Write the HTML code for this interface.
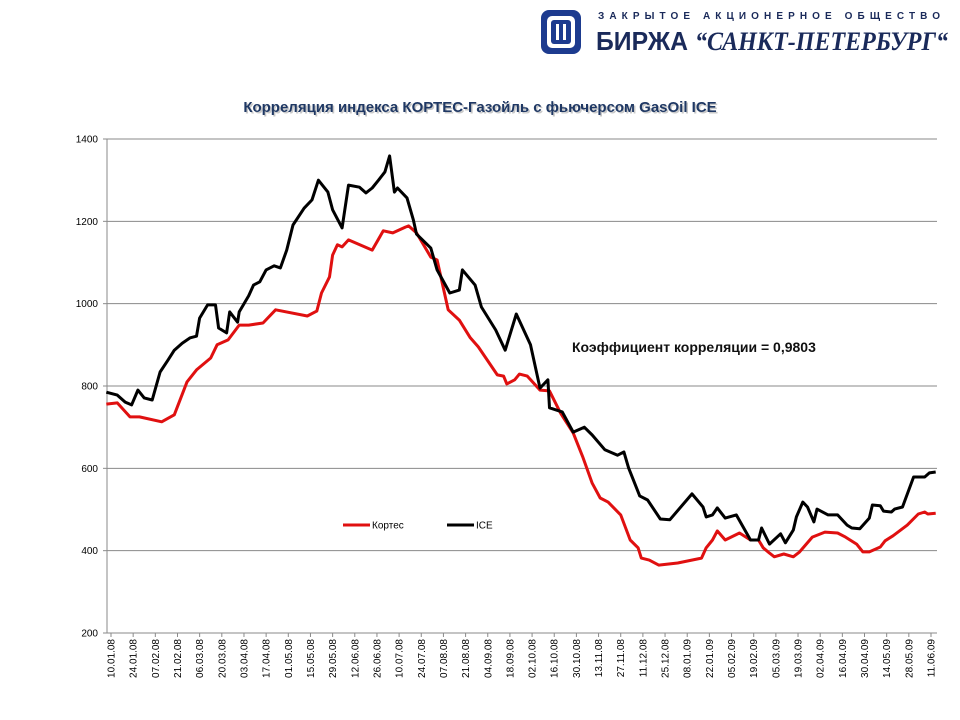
<!DOCTYPE html>
<html><head><meta charset="utf-8"><style>
body{margin:0;background:#fff;font-family:"Liberation Sans",sans-serif}
#wrap{position:relative;width:960px;height:720px;overflow:hidden}
</style></head><body>
<div id="wrap">
<svg id="logo" width="960" height="80" style="position:absolute;left:0;top:0">
<g>
<rect x="541" y="10" width="40" height="44" rx="8" fill="#1d3b8f"/>
<rect x="547" y="16" width="28" height="32" rx="5" fill="#fff"/>
<rect x="551" y="20" width="20" height="24" rx="3" fill="#1d3b8f"/>
<rect x="556" y="24" width="10" height="16" fill="#fff"/>
<rect x="559" y="24" width="4" height="16" fill="#1d3b8f"/>
</g>
<text x="598" y="19" font-size="10" font-weight="bold" fill="#1a2a5a" textLength="342" lengthAdjust="spacing" font-family="Liberation Sans, sans-serif">ЗАКРЫТОЕ АКЦИОНЕРНОЕ ОБЩЕСТВО</text>
<text x="596" y="50" font-size="26" font-weight="bold" fill="#1a2a5a" textLength="92" lengthAdjust="spacingAndGlyphs" font-family="Liberation Sans, sans-serif">БИРЖА</text>
<text x="695" y="50" font-size="26" font-weight="bold" font-style="italic" fill="#1a2a5a" textLength="253" lengthAdjust="spacingAndGlyphs" font-family="Liberation Serif, serif">“САНКТ-ПЕТЕРБУРГ“</text>
</svg>
<svg id="chart" width="960" height="720" style="position:absolute;left:0;top:0"></svg>
</div>
<script>
const yTicks=[200,400,600,800,1000,1200,1400];
const xTickLabels=["10.01.08","24.01.08","07.02.08","21.02.08","06.03.08","20.03.08","03.04.08","17.04.08","01.05.08","15.05.08","29.05.08","12.06.08","26.06.08","10.07.08","24.07.08","07.08.08","21.08.08","04.09.08","18.09.08","02.10.08","16.10.08","30.10.08","13.11.08","27.11.08","11.12.08","25.12.08","08.01.09","22.01.09","05.02.09","19.02.09","05.03.09","19.03.09","02.04.09","16.04.09","30.04.09","14.05.09","28.05.09","11.06.09"];
const iceDays=[-3,4,9,13,17,21,26,31,36,40,45,50,54,56,61,66,68,73,75,80,81,87,90,94,98,103,107,111,115,122,127,131,137,140,146,150,157,161,165,169,173,176,179,181,187,191,193,202,206,214,220,222,230,234,243,249,256,265,271,276,277,285,292,299,304,312,320,324,327,334,339,347,353,367,374,376,380,383,388,395,404,409,411,416,423,426,431,433,437,440,444,446,453,459,465,468,473,479,481,486,488,493,495,500,507,510,514,517,521];
const iceValues=[785,778,761,754,790,771,766,834,863,887,904,917,921,965,997,997,941,929,980,955,980,1019,1045,1053,1082,1092,1087,1130,1191,1232,1252,1300,1271,1228,1184,1288,1283,1269,1281,1300,1320,1359,1271,1281,1257,1203,1169,1135,1082,1026,1033,1082,1045,992,936,887,975,900,795,815,747,737,688,700,681,645,632,640,601,533,523,477,475,538,506,482,487,504,479,487,426,426,455,416,441,419,450,482,518,506,470,501,487,487,462,455,453,479,511,509,496,494,501,506,579,579,579,589,591];
const kortesDays=[-3,4,12,18,32,40,48,54,63,67,74,81,87,96,104,124,130,133,138,140,143,146,150,159,165,172,178,186,188,193,202,206,213,220,227,232,244,248,250,255,258,263,271,277,284,292,298,304,309,314,322,328,333,335,340,346,358,373,376,380,383,388,397,404,409,412,416,419,425,431,435,443,451,459,464,471,475,479,486,489,494,503,510,514,516,521];
const kortesValues=[756,759,725,725,713,730,810,839,868,900,912,948,948,953,985,970,982,1026,1065,1118,1143,1138,1155,1140,1130,1177,1172,1186,1189,1172,1113,1106,985,960,917,895,827,824,805,815,829,824,790,788,734,686,628,564,528,518,487,426,407,382,377,365,370,382,407,426,448,426,443,426,426,407,394,385,392,385,397,433,445,443,433,416,397,397,409,424,436,462,489,494,489,491];
const NS="http://www.w3.org/2000/svg";
const svg=document.getElementById('chart');
const L=107,R=937,T=139,B=633;
const yScale=v=>B-(v-200)/1200*(B-T);
const xScale=d=>111+d*820/518;
function mk(tag,attrs,parent){const e=document.createElementNS(NS,tag);for(const k in attrs)e.setAttribute(k,attrs[k]);(parent||svg).appendChild(e);return e;}
let t=mk('text',{x:480,y:112,'text-anchor':'middle','font-size':15,'font-weight':'bold',fill:'#c8c8c8'});t.textContent="Корреляция индекса КОРТЕС-Газойль с фьючерсом GasOil ICE";t.setAttribute('transform','translate(1.5,1.5)');


t=mk('text',{x:480,y:112,'text-anchor':'middle','font-size':15,'font-weight':'bold',fill:'#1f3864'});t.textContent="Корреляция индекса КОРТЕС-Газойль с фьючерсом GasOil ICE";


yTicks.forEach(v=>{const y=yScale(v);
 const g=mk('line',{x1:L,x2:R,y1:y,y2:y,stroke:'#8a8a8a','stroke-width':1});
 
 
 const tk=mk('line',{x1:L-4,x2:L,y1:y,y2:y,stroke:'#8a8a8a'});
 
 
 const lb=mk('text',{x:L-9,y:y+3.5,'text-anchor':'end','font-size':10,fill:'#000'});lb.textContent=v;
 
 
});
const ax=mk('line',{x1:L,x2:L,y1:T,y2:B,stroke:'#8a8a8a'});


xTickLabels.forEach((s,i)=>{const x=xScale(i*14);
 const tk=mk('line',{x1:x,x2:x,y1:B,y2:B+4,stroke:'#8a8a8a'});
 
 
 const lb=mk('text',{x:0,y:0,'text-anchor':'end','font-size':10,fill:'#000',transform:`translate(${x+3.5},${B+6}) rotate(-90)`});lb.textContent=s;
 
 
});
function line(days,vals,color,name){const d=days.map((x,i)=>(i?'L':'M')+xScale(x).toFixed(1)+','+yScale(vals[i]).toFixed(1)).join('');
 const p=mk('path',{d,fill:'none',stroke:color,'stroke-width':3,'stroke-linejoin':'round'});
 
 }
line(kortesDays,kortesValues,'#e01010','kortes-line');
line(iceDays,iceValues,'#000','ice-line');
let l=mk('line',{x1:343,x2:370,y1:525,y2:525,stroke:'#e01010','stroke-width':3});


t=mk('text',{x:372,y:528.5,'font-size':10});t.textContent='Кортес';


l=mk('line',{x1:447,x2:474,y1:525,y2:525,stroke:'#000','stroke-width':3});


t=mk('text',{x:476,y:528.5,'font-size':10});t.textContent='ICE';


t=mk('text',{x:572,y:352,'font-size':14,'font-weight':'bold',fill:'#111'});t.textContent='Коэффициент корреляции =  0,9803';


</script>
</body></html>
